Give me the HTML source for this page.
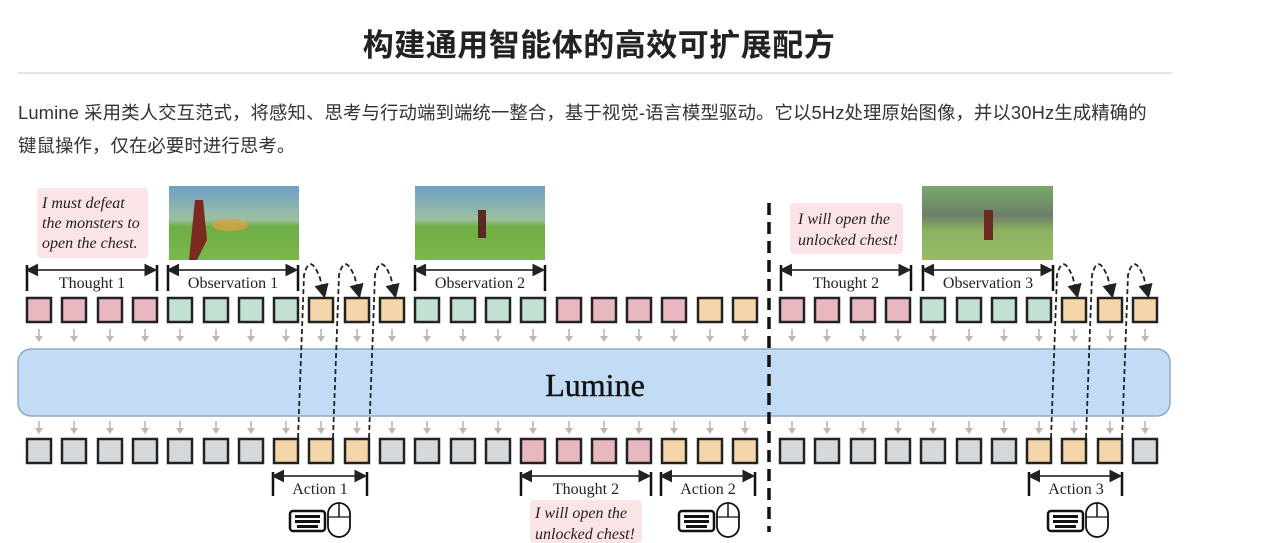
<!DOCTYPE html>
<html><head><meta charset="utf-8"><style>
body{margin:0;width:1280px;height:543px;background:#fff;overflow:hidden;position:relative;font-family:"Liberation Sans","Noto Sans CJK SC",sans-serif}
h1{position:absolute;top:20px;left:0;width:1198px;text-align:center;margin:0;font-size:31px;font-weight:bold;color:#222;letter-spacing:0.5px}
.hr{position:absolute;left:18px;top:72px;width:1154px;height:2px;background:#e4e4e4}
p{position:absolute;left:18px;top:96px;margin:0;font-size:18.4px;line-height:33px;color:#333;width:1200px;white-space:nowrap;letter-spacing:0.1px}
svg{position:absolute;left:0;top:0}
</style></head><body>
<h1>构建通用智能体的高效可扩展配方</h1>
<div class="hr"></div>
<p>Lumine 采用类人交互范式，将感知、思考与行动端到端统一整合，基于视觉-语言模型驱动。它以5Hz处理原始图像，并以30Hz生成精确的<br>键鼠操作，仅在必要时进行思考。</p>
<svg width="1280" height="543" viewBox="0 0 1280 543">
<defs>
<linearGradient id="g1" x1="0" y1="0" x2="0" y2="1"><stop offset="0" stop-color="#6f9fc9"/><stop offset="0.45" stop-color="#9cc0a0"/><stop offset="0.55" stop-color="#6fae45"/><stop offset="1" stop-color="#7ab84a"/></linearGradient>
<linearGradient id="g3" x1="0" y1="0" x2="0" y2="1"><stop offset="0" stop-color="#7aa86a"/><stop offset="0.4" stop-color="#6b7f6a"/><stop offset="0.6" stop-color="#8cb060"/><stop offset="1" stop-color="#98bb66"/></linearGradient>
<marker id="ah" markerWidth="8" markerHeight="8" refX="6" refY="4" orient="auto"><path d="M0,0 L8,4 L0,8 Z" fill="#222"/></marker>
<marker id="ahs" markerWidth="8" markerHeight="8" refX="5" refY="4" orient="auto-start-reverse"><path d="M0,0 L8,4 L0,8 Z" fill="#222"/></marker>
<g id="ga"><line x1="0" y1="0" x2="0" y2="9" stroke="#b8b8b8" stroke-width="1.6"/><path d="M-4,7 L0,13 L4,7 Z" fill="#b8b8b8"/></g>
</defs>
<rect x="169" y="186" width="130" height="74" fill="url(#g1)"/>
<path d="M195 200 l8 0 l4 40 l-10 20 l-8 0 Z" fill="#7a2a20"/><ellipse cx="230" cy="225" rx="18" ry="6" fill="#e6a040" opacity=".7"/>
<rect x="415" y="186" width="130" height="74" fill="url(#g1)"/>
<rect x="478" y="210" width="8" height="28" fill="#5a2a22"/>
<rect x="922" y="186" width="131" height="74" fill="url(#g3)"/>
<rect x="984" y="210" width="9" height="30" fill="#6a2a22"/>
<rect x="37" y="188" width="111" height="70" rx="4" fill="#fbe4e6"/>
<g font-family="Liberation Serif,serif" font-style="italic" font-size="16" fill="#222">
<text x="42" y="208">I must defeat</text><text x="42" y="228">the monsters to</text><text x="42" y="248">open the chest.</text></g>
<rect x="790" y="203" width="113" height="51" rx="4" fill="#fbe4e6"/>
<g font-family="Liberation Serif,serif" font-style="italic" font-size="16" fill="#222">
<text x="798" y="224">I will open the</text><text x="798" y="245">unlocked chest!</text></g>
<rect x="530" y="500" width="112" height="43" rx="4" fill="#fbe4e6"/>
<g font-family="Liberation Serif,serif" font-style="italic" font-size="16" fill="#222">
<text x="535" y="518">I will open the</text><text x="535" y="539">unlocked chest!</text></g>
<g stroke="#111" stroke-width="2.5" fill="none">
<path d="M27 265v26M157 265v26M168 265v26M298 265v26M415 265v26M545 265v26M781 265v26M911 265v26M923 265v26M1053 265v26"/>
<path d="M273 472v24M367 472v24M521 472v24M651 472v24M661 472v24M755 472v24M1029 472v24M1122 472v24"/>
</g>
<g stroke="#111" stroke-width="1.6" marker-start="url(#ahs)" marker-end="url(#ah)">
<line x1="30" y1="270" x2="154" y2="270"/><line x1="171" y1="270" x2="295" y2="270"/><line x1="418" y1="270" x2="542" y2="270"/>
<line x1="784" y1="270" x2="908" y2="270"/><line x1="926" y1="270" x2="1050" y2="270"/>
<line x1="276" y1="476" x2="364" y2="476"/><line x1="524" y1="476" x2="648" y2="476"/><line x1="664" y1="476" x2="752" y2="476"/><line x1="1032" y1="476" x2="1119" y2="476"/>
</g>
<g font-family="Liberation Serif,serif" font-size="16" fill="#222" text-anchor="middle">
<text x="92" y="288">Thought 1</text><text x="233" y="288">Observation 1</text><text x="480" y="288">Observation 2</text>
<text x="846" y="288">Thought 2</text><text x="988" y="288">Observation 3</text>
<text x="320" y="494">Action 1</text><text x="586" y="494">Thought 2</text><text x="708" y="494">Action 2</text><text x="1076" y="494">Action 3</text>
</g>
<rect x="18" y="349" width="1152" height="67" rx="13" fill="#c2dcf5" stroke="#8fa9c4" stroke-width="1.5"/>
<text x="595" y="396" font-family="Liberation Serif,serif" font-size="32" fill="#111" text-anchor="middle" stroke="#111" stroke-width="0.4">Lumine</text>
<line x1="769" y1="203" x2="769" y2="532" stroke="#111" stroke-width="3.5" stroke-dasharray="12,7"/>
<g stroke="#222" stroke-width="2.5">
<g fill="#e9b7bf"><rect x="27" y="298" width="24" height="24"/><rect x="62" y="298" width="24" height="24"/><rect x="98" y="298" width="24" height="24"/><rect x="133" y="298" width="24" height="24"/>
<rect x="557" y="298" width="24" height="24"/><rect x="592" y="298" width="24" height="24"/><rect x="627" y="298" width="24" height="24"/><rect x="662" y="298" width="24" height="24"/>
<rect x="780" y="298" width="24" height="24"/><rect x="815" y="298" width="24" height="24"/><rect x="851" y="298" width="24" height="24"/><rect x="886" y="298" width="24" height="24"/>
<rect x="521" y="439" width="24" height="24"/><rect x="557" y="439" width="24" height="24"/><rect x="592" y="439" width="24" height="24"/><rect x="627" y="439" width="24" height="24"/></g>
<g fill="#c3e1d2"><rect x="168" y="298" width="24" height="24"/><rect x="204" y="298" width="24" height="24"/><rect x="239" y="298" width="24" height="24"/><rect x="274" y="298" width="24" height="24"/>
<rect x="415" y="298" width="24" height="24"/><rect x="451" y="298" width="24" height="24"/><rect x="486" y="298" width="24" height="24"/><rect x="521" y="298" width="24" height="24"/>
<rect x="921" y="298" width="24" height="24"/><rect x="957" y="298" width="24" height="24"/><rect x="992" y="298" width="24" height="24"/><rect x="1027" y="298" width="24" height="24"/></g>
<g fill="#f4d6aa"><rect x="309" y="298" width="24" height="24"/><rect x="345" y="298" width="24" height="24"/><rect x="380" y="298" width="24" height="24"/>
<rect x="698" y="298" width="24" height="24"/><rect x="733" y="298" width="24" height="24"/>
<rect x="1062" y="298" width="24" height="24"/><rect x="1098" y="298" width="24" height="24"/><rect x="1133" y="298" width="24" height="24"/>
<rect x="274" y="439" width="24" height="24"/><rect x="309" y="439" width="24" height="24"/><rect x="345" y="439" width="24" height="24"/>
<rect x="662" y="439" width="24" height="24"/><rect x="698" y="439" width="24" height="24"/><rect x="733" y="439" width="24" height="24"/>
<rect x="1027" y="439" width="24" height="24"/><rect x="1062" y="439" width="24" height="24"/><rect x="1098" y="439" width="24" height="24"/></g>
<g fill="#d6d9dc"><rect x="27" y="439" width="24" height="24"/><rect x="62" y="439" width="24" height="24"/><rect x="98" y="439" width="24" height="24"/><rect x="133" y="439" width="24" height="24"/><rect x="168" y="439" width="24" height="24"/><rect x="204" y="439" width="24" height="24"/><rect x="239" y="439" width="24" height="24"/>
<rect x="380" y="439" width="24" height="24"/><rect x="415" y="439" width="24" height="24"/><rect x="451" y="439" width="24" height="24"/><rect x="486" y="439" width="24" height="24"/>
<rect x="780" y="439" width="24" height="24"/><rect x="815" y="439" width="24" height="24"/><rect x="851" y="439" width="24" height="24"/><rect x="886" y="439" width="24" height="24"/><rect x="921" y="439" width="24" height="24"/><rect x="957" y="439" width="24" height="24"/><rect x="992" y="439" width="24" height="24"/>
<rect x="1133" y="439" width="24" height="24"/></g>
</g>
<g>
<use href="#ga" x="39" y="329"/><use href="#ga" x="74" y="329"/><use href="#ga" x="110" y="329"/><use href="#ga" x="145" y="329"/><use href="#ga" x="180" y="329"/><use href="#ga" x="216" y="329"/><use href="#ga" x="251" y="329"/><use href="#ga" x="286" y="329"/><use href="#ga" x="321" y="329"/><use href="#ga" x="357" y="329"/><use href="#ga" x="392" y="329"/><use href="#ga" x="427" y="329"/><use href="#ga" x="463" y="329"/><use href="#ga" x="498" y="329"/><use href="#ga" x="533" y="329"/><use href="#ga" x="569" y="329"/><use href="#ga" x="604" y="329"/><use href="#ga" x="639" y="329"/><use href="#ga" x="674" y="329"/><use href="#ga" x="710" y="329"/><use href="#ga" x="745" y="329"/>
<use href="#ga" x="792" y="329"/><use href="#ga" x="827" y="329"/><use href="#ga" x="863" y="329"/><use href="#ga" x="898" y="329"/><use href="#ga" x="933" y="329"/><use href="#ga" x="969" y="329"/><use href="#ga" x="1004" y="329"/><use href="#ga" x="1039" y="329"/><use href="#ga" x="1074" y="329"/><use href="#ga" x="1110" y="329"/><use href="#ga" x="1145" y="329"/>
<use href="#ga" x="39" y="421"/><use href="#ga" x="74" y="421"/><use href="#ga" x="110" y="421"/><use href="#ga" x="145" y="421"/><use href="#ga" x="180" y="421"/><use href="#ga" x="216" y="421"/><use href="#ga" x="251" y="421"/><use href="#ga" x="286" y="421"/><use href="#ga" x="321" y="421"/><use href="#ga" x="357" y="421"/><use href="#ga" x="392" y="421"/><use href="#ga" x="427" y="421"/><use href="#ga" x="463" y="421"/><use href="#ga" x="498" y="421"/><use href="#ga" x="533" y="421"/><use href="#ga" x="569" y="421"/><use href="#ga" x="604" y="421"/><use href="#ga" x="639" y="421"/><use href="#ga" x="674" y="421"/><use href="#ga" x="710" y="421"/><use href="#ga" x="745" y="421"/>
<use href="#ga" x="792" y="421"/><use href="#ga" x="827" y="421"/><use href="#ga" x="863" y="421"/><use href="#ga" x="898" y="421"/><use href="#ga" x="933" y="421"/><use href="#ga" x="969" y="421"/><use href="#ga" x="1004" y="421"/><use href="#ga" x="1039" y="421"/><use href="#ga" x="1074" y="421"/><use href="#ga" x="1110" y="421"/><use href="#ga" x="1145" y="421"/>
</g>
<g stroke="#222" stroke-width="1.8" fill="none" stroke-dasharray="5,3" marker-end="url(#ah)">
<path d="M298 438 L304 275 Q310 252 320 278 L324 295"/>
<path d="M333 438 L339 275 Q345 252 355 278 L359 295"/>
<path d="M369 438 L375 275 Q381 252 391 278 L395 295"/>
<path d="M1051 438 L1057 275 Q1063 252 1073 278 L1077 295"/>
<path d="M1086 438 L1092 275 Q1098 252 1108 278 L1112 295"/>
<path d="M1122 438 L1128 275 Q1134 252 1144 278 L1148 295"/>
</g>
<g id="km" stroke="#111" fill="#fff">
<rect x="290" y="511" width="35" height="20" rx="3" stroke-width="2.5"/>
<g fill="#111" stroke="none"><rect x="295" y="515" width="25" height="3"/><rect x="295" y="520" width="25" height="3"/><rect x="297" y="525" width="21" height="3"/></g>
<rect x="328" y="503" width="22" height="34" rx="11" stroke-width="1.8"/>
<line x1="339" y1="503" x2="339" y2="517" stroke-width="1.5"/><line x1="328" y1="517" x2="350" y2="517" stroke-width="1.2"/>
</g>
<use href="#km" x="389" y="0"/>
<use href="#km" x="758" y="0"/>
</svg>
</body></html>
